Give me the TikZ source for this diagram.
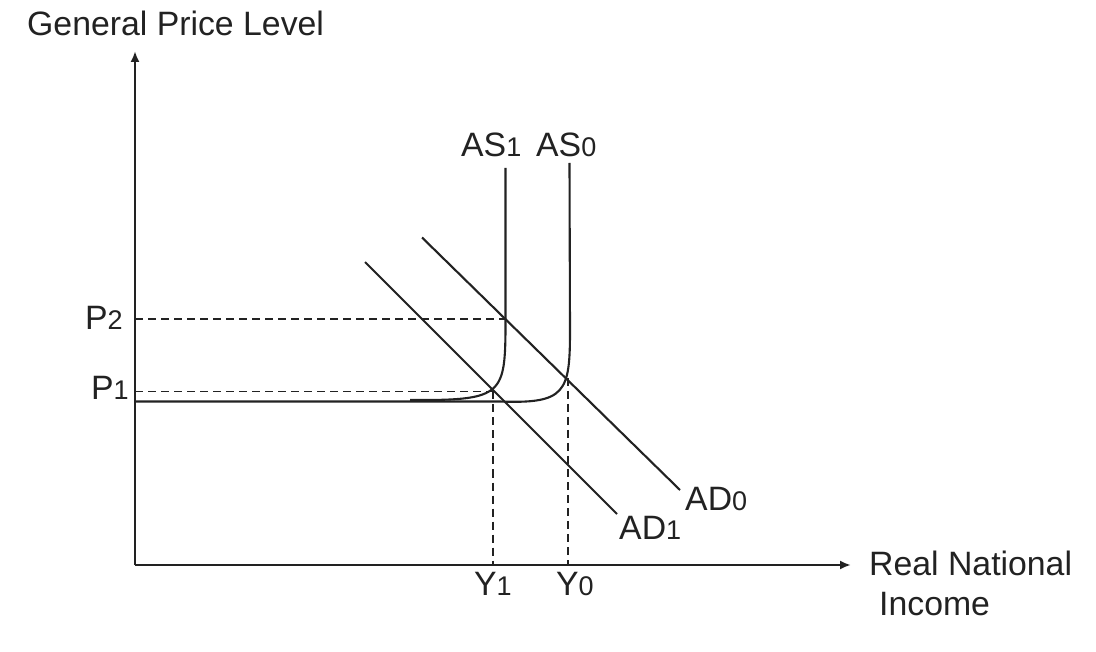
\documentclass[tikz,border=0pt]{standalone}
\usepackage{fontspec}
\setmainfont{Liberation Sans}
\usetikzlibrary{arrows.meta}
\definecolor{ink}{HTML}{222222}
\tikzset{
  lbl/.style={anchor=base west,inner sep=0pt,text=ink,font=\fontsize{33.8}{38}\selectfont},
  axis/.style={draw=ink,line width=2.6pt,-{Latex[length=11pt,width=9pt]}},
  curve/.style={draw=ink,line width=2.1pt},
  guide/.style={draw=ink,line width=1.8pt,dash pattern=on 8pt off 5pt}
}
\newcommand{\dg}[1]{{\fontsize{27}{30}\selectfont #1}}
\begin{document}
\begin{tikzpicture}[x=1pt,y=-1pt]
\useasboundingbox[fill=white] (0,0) rectangle (1096,652);
% coordinates
\coordinate (O) at (135,565);
\coordinate (Ytop) at (135,51);
\coordinate (Xend) at (851,565);
\coordinate (E2) at (505.5,319);
\coordinate (E1) at (493,391.5);
\coordinate (E0) at (568,378);
\coordinate (P2a) at (135,319);
\coordinate (P1a) at (135,391.5);
\coordinate (Y1a) at (493,565);
\coordinate (Y0a) at (568,565);
% axes
\draw[axis] (O) -- (Ytop);
\draw[axis] (O) -- (Xend);
% labels
\node[lbl] (gpl) at (27,36) {General Price Level};
\node[lbl] (rni) at (869,575) {Real National};
\node[lbl] (inc) at (879,615) {Income};
\node[lbl] (as1) at (461,157) {AS\dg{1}};
\node[lbl] (as0) at (536,157) {AS\dg{0}};
\node[lbl] (p2) at (85,330) {P\dg{2}};
\node[lbl] (p1) at (91,400) {P\dg{1}};
\node[lbl] (y1) at (474,595) {Y\dg{1}};
\node[lbl] (y0) at (556,595) {Y\dg{0}};
\node[lbl] (ad1) at (619,539) {AD\dg{1}};
\node[lbl] (ad0) at (685,511) {AD\dg{0}};
% guides
\draw[guide] (P2a) -- (E2);
\draw[guide] (P1a) -- (E1);
\draw[guide] (E1) -- (Y1a);
\draw[guide] (E0) -- (Y0a);
% AS curves
\draw[curve] (410,400) .. controls (500,400.5) and (505,396) .. (505.5,330) -- (505.5,168);
\draw[curve] (135,401.5) -- (500,401.5) .. controls (566,404) and (570,392) .. (570,330) -- (569.5,163);
% AD lines
\draw[curve] (365,262) -- (617,514);
\draw[curve] (422,237.5) -- (680,490);
\end{tikzpicture}
\end{document}
